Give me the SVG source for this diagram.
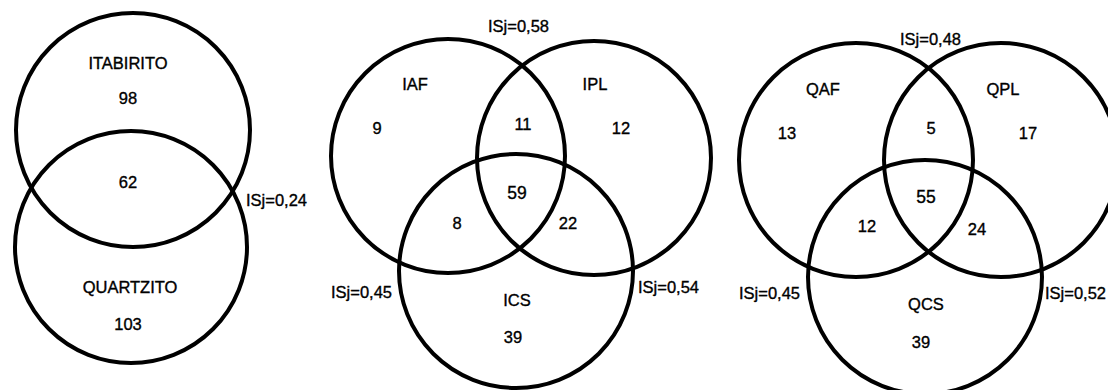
<svg xmlns="http://www.w3.org/2000/svg" width="1108" height="390" viewBox="0 0 1108 390">
<style>
.c{fill:none;stroke:#000;stroke-width:4}
text{font-family:"Liberation Sans",Arial,sans-serif;font-size:16.5px;fill:#000;stroke:#000;stroke-width:0.35}
.m{text-anchor:middle}
.b{font-size:17.5px}
</style>
<rect width="1108" height="390" fill="#fff"/>
<g id="itabirito"><circle class="c" cx="133" cy="130" r="117"/><text class="m" x="128" y="69">ITABIRITO</text><text class="m" x="128" y="104">98</text></g>
<g id="quartzito"><circle class="c" cx="131" cy="247" r="116"/><text class="m" x="130" y="293">QUARTZITO</text><text class="m" x="128" y="330">103</text></g>
<text class="m" x="128" y="188">62</text>
<text x="246" y="206">ISj=0,24</text>

<g id="iaf"><circle class="c" cx="448" cy="156" r="117"/><text class="m" x="415" y="90">IAF</text><text class="m" x="377" y="134">9</text></g>
<g id="ipl"><circle class="c" cx="594" cy="158" r="117"/><text class="m" x="595" y="90">IPL</text><text class="m" x="621" y="134">12</text></g>
<g id="ics"><circle class="c" cx="516" cy="271" r="117"/><text class="m" x="517" y="306">ICS</text><text class="m" x="513" y="343">39</text></g>
<text class="m" x="523" y="130">11</text>
<text class="m b" x="517" y="199">59</text>
<text class="m" x="457" y="229">8</text>
<text class="m" x="568" y="229">22</text>
<text x="488" y="32">ISj=0,58</text>
<text x="331" y="298">ISj=0,45</text>
<text x="638" y="293">ISj=0,54</text>

<g id="qaf"><circle class="c" cx="856" cy="160" r="117"/><text class="m" x="823" y="95">QAF</text><text class="m" x="787" y="139">13</text></g>
<g id="qpl"><circle class="c" cx="1001" cy="160" r="117"/><text class="m" x="1003" y="95">QPL</text><text class="m" x="1028" y="139">17</text></g>
<g id="qcs"><circle class="c" cx="925" cy="277" r="117"/><text class="m" x="926" y="310">QCS</text><text class="m" x="921" y="348">39</text></g>
<text class="m" x="931" y="134">5</text>
<text class="m b" x="926" y="203">55</text>
<text class="m" x="867" y="232">12</text>
<text class="m" x="977" y="235">24</text>
<text x="900" y="45">ISj=0,48</text>
<text x="739" y="299">ISj=0,45</text>
<text x="1045" y="299">ISj=0,52</text>
</svg>
